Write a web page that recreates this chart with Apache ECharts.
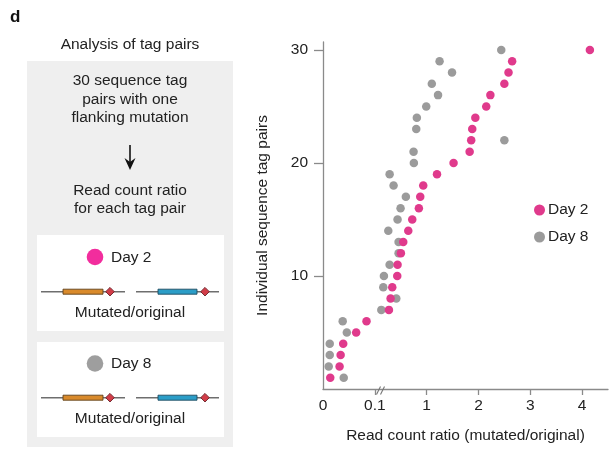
<!DOCTYPE html>
<html>
<head>
<meta charset="utf-8">
<script src="https://cdn.jsdelivr.net/npm/echarts@6/dist/echarts.min.js"></script>
<style>
html,body{margin:0;padding:0;background:#fff;}
#c{width:613px;height:449px;}
</style>
</head>
<body>
<div id="c"></div>
<script>
// ---- data ----
const tagPairs = [1,2,3,4,5,6,7,8,9,10,11,12,13,14,15,16,17,18,19,20,21,22,23,24,25,26,27,28,29,30];
const day2Ratio = [0.014,0.032,0.034,0.039,0.064,0.084,0.345,0.374,0.403,0.49,0.495,0.553,0.594,0.681,0.75,0.865,0.889,0.941,1.20,1.52,1.83,1.86,1.88,1.94,2.15,2.23,2.50,2.58,2.65,4.15];
const day8Ratio = [0.040,0.011,0.013,0.013,0.046,0.038,0.213,0.473,0.247,0.258,0.357,0.513,0.513,0.334,0.495,0.547,0.639,0.426,0.357,0.778,0.773,2.50,0.820,0.830,0.993,1.22,1.10,1.49,1.25,2.44];
const xTickValues = [0, 0.1, 1, 2, 3, 4];
const xTickLabels = ['0', '0.1', '1', '2', '3', '4'];
const yTickValues = [10, 20, 30];
const seriesNames = ['Day 2', 'Day 8'];

// piecewise-linear broken axis: each tick interval gets equal width
function toAxis(v) {
  const k = xTickValues;
  for (let i = 0; i < k.length - 1; i++) {
    if (v <= k[i + 1]) return i + (v - k[i]) / (k[i + 1] - k[i]);
  }
  const n = k.length - 1;
  return n + (v - k[n]) / (k[n] - k[n - 1]);
}

const FONT = '"Liberation Sans", Arial, Helvetica, sans-serif';
const TXT = '#222';
const PINK = '#e03a8c';
const GRAY = '#9b9b9b';

const chart = echarts.init(document.getElementById('c'), null, {renderer: 'canvas'});

function txt(x, y, s, opts) {
  return Object.assign({
    type: 'text', x: x, y: y,
    style: Object.assign({text: s, fill: TXT, font: '15.5px ' + FONT, textAlign: 'center', textVerticalAlign: 'middle'}, opts || {})
  });
}
function diagram(y) {
  const els = [];
  const segs = [[41, 125, 63, 103, 110, '#d98a2b', '#5e3f1a'], [136, 219, 158, 197, 205, '#2b9dc7', '#1d4a5e']];
  segs.forEach(s => {
    els.push({type: 'line', shape: {x1: s[0], y1: y, x2: s[1], y2: y}, style: {stroke: '#6e6e6e', lineWidth: 1.5}});
    els.push({type: 'rect', shape: {x: s[2], y: y - 2.5, width: s[3] - s[2], height: 5}, style: {fill: s[5], stroke: s[6], lineWidth: 0.9}});
    els.push({type: 'polygon', shape: {points: [[s[4], y - 4.3], [s[4] + 4.3, y], [s[4], y + 4.3], [s[4] - 4.3, y]]}, style: {fill: '#d23c48', stroke: '#6a2228', lineWidth: 0.9}});
  });
  return els;
}

const graphics = [
  txt(10, 17, 'd', {font: 'bold 17px ' + FONT, textAlign: 'left', fill: '#111'}),
  txt(130, 45, 'Analysis of tag pairs'),
  {type: 'rect', shape: {x: 27, y: 61, width: 206, height: 386}, style: {fill: '#efefef'}, z: -1},
  txt(130, 81, '30 sequence tag'),
  txt(130, 99.5, 'pairs with one'),
  txt(130, 118, 'flanking mutation'),
  {type: 'line', shape: {x1: 130, y1: 145, x2: 130, y2: 163}, style: {stroke: '#111', lineWidth: 1.6}},
  {type: 'polygon', shape: {points: [[124.5, 158], [130, 162], [135.5, 158], [130, 170]]}, style: {fill: '#111'}},
  txt(130, 190.5, 'Read count ratio'),
  txt(130, 208.5, 'for each tag pair'),
  {type: 'rect', shape: {x: 37, y: 235, width: 187, height: 96}, style: {fill: '#fff'}},
  {type: 'circle', shape: {cx: 95, cy: 257, r: 8.3}, style: {fill: '#f22d9d'}},
  txt(111, 257.5, 'Day 2', {textAlign: 'left'}),
  ...diagram(291.7),
  txt(130, 313, 'Mutated/original'),
  {type: 'rect', shape: {x: 37, y: 342, width: 187, height: 95}, style: {fill: '#fff'}},
  {type: 'circle', shape: {cx: 95, cy: 363.5, r: 8.3}, style: {fill: '#9e9e9e'}},
  txt(111, 364, 'Day 8', {textAlign: 'left'}),
  ...diagram(397.7),
  txt(130, 419, 'Mutated/original'),
  // axis break marks
  {type: 'line', shape: {x1: 376.5, y1: 394.5, x2: 380.5, y2: 386.5}, style: {stroke: '#777', lineWidth: 1.1}, z: 10},
  {type: 'line', shape: {x1: 380.5, y1: 394.5, x2: 384.5, y2: 386.5}, style: {stroke: '#777', lineWidth: 1.1}, z: 10}
];

const axisColor = '#8a8a8a';
const option = {
  animation: false,
  backgroundColor: '#fff',
  textStyle: {fontFamily: FONT},
  grid: {left: 323, top: 42, width: 285, height: 348.7, containLabel: false},
  legend: {
    data: seriesNames,
    orient: 'vertical',
    left: 529, top: 197,
    icon: 'circle', itemWidth: 11, itemHeight: 11, itemGap: 11,
    textStyle: {fontSize: 15.5, color: TXT, fontFamily: FONT, padding: [0, 0, 0, -2]}
  },
  xAxis: {
    type: 'value', min: 0, max: 5.5, interval: 1,
    name: 'Read count ratio (mutated/original)',
    nameLocation: 'middle', nameGap: 39,
    nameTextStyle: {fontSize: 15.5, color: TXT, fontFamily: FONT},
    splitLine: {show: false},
    axisLine: {show: true, lineStyle: {color: axisColor, width: 1.3}},
    axisTick: {show: true, length: 6, lineStyle: {color: axisColor, width: 1.3}, customValues: [1, 2, 3, 4, 5]},
    axisLabel: {
      fontSize: 15.5, color: TXT, fontFamily: FONT, margin: 9,
      customValues: [0, 1, 2, 3, 4, 5],
      formatter: v => xTickLabels[Math.round(v)]
    }
  },
  yAxis: {
    type: 'value', min: 0, max: 30.7,
    name: 'Individual sequence tag pairs',
    nameLocation: 'middle', nameGap: 52, nameRotate: 90,
    nameTextStyle: {fontSize: 15.5, color: TXT, fontFamily: FONT},
    splitLine: {show: false},
    axisLine: {show: true, lineStyle: {color: axisColor, width: 1.3}},
    axisTick: {show: true, length: 9, lineStyle: {color: axisColor, width: 1.3}, customValues: yTickValues},
    axisLabel: {fontSize: 15.5, color: TXT, fontFamily: FONT, margin: 15, customValues: yTickValues}
  },
  series: [
    {
      name: seriesNames[0], type: 'scatter', symbolSize: 8.5, z: 3,
      itemStyle: {color: PINK, opacity: 1},
      data: tagPairs.map((k, i) => [toAxis(day2Ratio[i]), k])
    },
    {
      name: seriesNames[1], type: 'scatter', symbolSize: 8.5, z: 2,
      itemStyle: {color: GRAY, opacity: 1},
      data: tagPairs.map((k, i) => [toAxis(day8Ratio[i]), k])
    }
  ],
  graphic: {elements: graphics}
};
chart.setOption(option);
</script>
</body>
</html>
